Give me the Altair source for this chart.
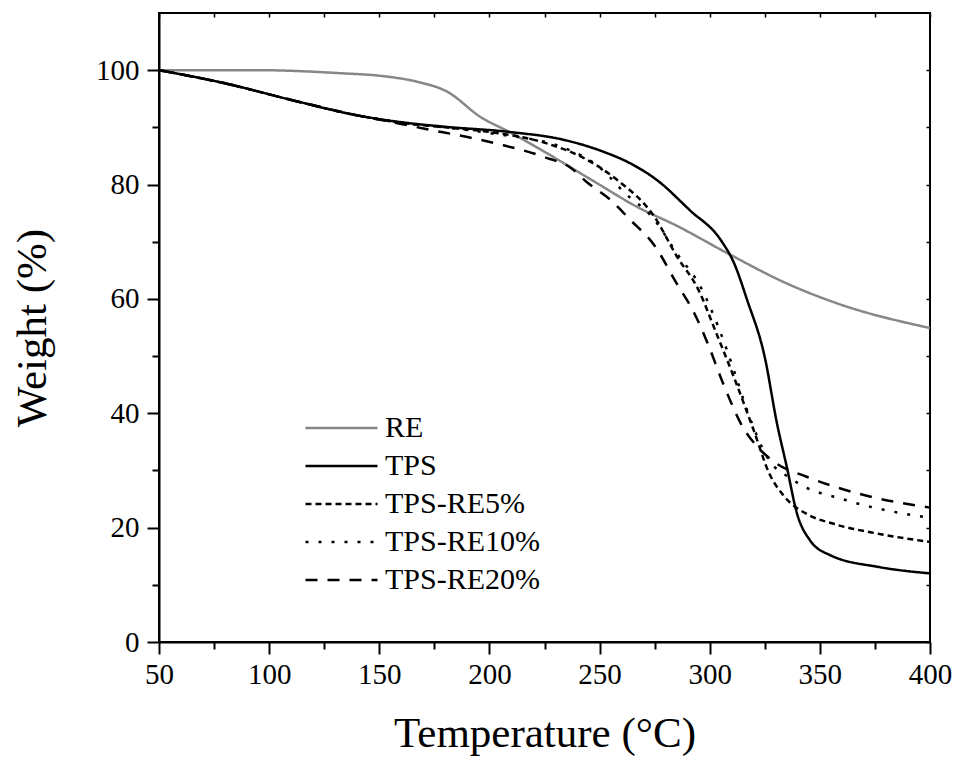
import altair as alt
import pandas as pd

FONT = "Liberation Serif"

series = ["RE", "TPS", "TPS-RE5%", "TPS-RE10%", "TPS-RE20%"]
colors = ["#878787", "#000000", "#000000", "#000000", "#000000"]
dashes = [[1, 0], [1, 0], [6, 4], [3, 10], [12, 10]]

re_T = [50, 95, 131, 153, 167, 181, 196, 209, 226, 249, 267, 285, 308, 335, 358, 400]
re_W = [100, 100, 99.5, 98.9, 98.0, 96.2, 91.8, 89.2, 85.5, 80.2, 76.1, 72.8, 68.0, 62.7, 59.2, 54.9]

tps_T = [50, 80, 110, 140, 160, 180, 209, 234, 252, 264, 276, 291, 305, 311, 317, 325, 330.5, 335, 339.6, 345.5, 354.6, 377, 400]
tps_W = [100, 97.7, 94.8, 92.1, 90.9, 90.1, 89.2, 87.8, 85.7, 83.7, 80.8, 75.5, 70.3, 66.3, 59.8, 49.8, 38.3, 30.6, 22.5, 17.8, 15.2, 13.1, 12.0]

re5_T = [50, 80, 110, 140, 160, 180, 200, 226, 243, 258, 275, 285, 295, 303, 311, 320, 327, 334, 345, 355, 377, 400]
re5_W = [100, 97.7, 94.8, 92.1, 90.8, 90.0, 89.2, 87.2, 84.6, 80.8, 74.3, 67.5, 61.5, 54.0, 46.3, 37.0, 29.5, 25.4, 22.2, 20.8, 18.9, 17.5]

re10_T = [50, 80, 110, 140, 160, 180, 200, 234, 250, 261, 275, 285, 296, 304, 311, 317, 326, 338, 362, 400]
re10_W = [100, 97.7, 94.8, 92.1, 90.8, 90.0, 89.0, 86.4, 83.0, 78.7, 73.8, 68.0, 62.0, 55.0, 47.5, 40.5, 32.4, 28.3, 24.8, 21.7]

re20_T = [50, 80, 110, 140, 160, 170, 190, 205, 225, 237, 244, 255, 264, 275, 285, 293, 299, 306, 315, 322, 330, 344, 370, 400]
re20_W = [100, 97.7, 94.8, 92.1, 90.6, 89.8, 88.3, 87.0, 84.8, 82.9, 80.5, 77.3, 73.8, 69.3, 62.7, 57.5, 52.3, 45.3, 37.6, 34.0, 31.3, 28.9, 25.7, 23.5]

x_ticks = list(range(50, 401, 25))
y_ticks = list(range(0, 101, 10))

rows = []
for name, T, W in zip(series, [re_T, tps_T, re5_T, re10_T, re20_T], [re_W, tps_W, re5_W, re10_W, re20_W]):
    for i, (t, w) in enumerate(zip(T, W)):
        rows.append({"series": name, "T": t, "W": w, "order": i})
df = pd.DataFrame(rows)

xscale = alt.Scale(domain=[50, 400], nice=False, zero=False)
yscale = alt.Scale(domain=[0, 110], nice=False, zero=False)

legend = alt.Legend(
    orient="none", legendX=145, legendY=397, title=None,
    symbolType="stroke", symbolSize=5184, symbolStrokeWidth=2.5,
    labelFont=FONT, labelFontSize=30, labelColor="black",
    clipHeight=36, rowPadding=2, labelOffset=6, padding=0, symbolOffset=0,
)

lines = alt.Chart(df).mark_line(strokeWidth=2.5, interpolate="monotone").encode(
    x=alt.X("T:Q", scale=xscale, axis=alt.Axis(
        title="Temperature (°C)", values=x_ticks,
        labelExpr="datum.value % 50 === 0 ? datum.label : ''",
        tickSize={"condition": {"test": "datum.value % 50 === 0", "value": 12}, "value": 7},
        tickWidth=2, tickColor="black", domainColor="black", domainWidth=2,
        labelFont=FONT, labelFontSize=29, labelColor="black", labelPadding=6,
        labelOverlap=False, labelFlush=False,
        titleFont=FONT, titleFontSize=43, titleFontWeight="normal", titleColor="black",
        titlePadding=23, grid=False)),
    y=alt.Y("W:Q", scale=yscale, axis=alt.Axis(
        title="Weight (%)", values=y_ticks,
        labelExpr="datum.value % 20 === 0 ? datum.label : ''",
        tickSize={"condition": {"test": "datum.value % 20 === 0", "value": 12}, "value": 7},
        tickWidth=2, tickColor="black", domainColor="black", domainWidth=2,
        labelFont=FONT, labelFontSize=29, labelColor="black", labelPadding=8,
        labelOverlap=False, labelFlush=False,
        titleFont=FONT, titleFontSize=43, titleFontWeight="normal", titleColor="black",
        titlePadding=41, grid=False)),
    color=alt.Color("series:N", scale=alt.Scale(domain=series, range=colors), sort=series, legend=legend),
    strokeDash=alt.StrokeDash("series:N", scale=alt.Scale(domain=series, range=dashes), sort=series, legend=legend),
    order="order:Q",
)

frame = alt.Chart(df).mark_line(strokeOpacity=0).encode(
    x=alt.X("T:Q", scale=xscale, axis=alt.Axis(
        orient="top", values=x_ticks, labels=False, domain=False, title=None,
        tickSize=4, offset=-4, tickWidth=1.5, tickColor="black", grid=False)),
    y=alt.Y("W:Q", scale=yscale, axis=alt.Axis(
        orient="right", values=y_ticks, labels=False, domain=False, title=None,
        tickSize=4, offset=-4, tickWidth=1.5, tickColor="black", grid=False)),
    detail="series:N",
    order="order:Q",
)

chart = alt.layer(lines, frame).resolve_axis(x="independent", y="independent").properties(
    width=771, height=629,
    autosize=alt.AutoSizeParams(type="none"),
    padding={"left": 151, "top": 5, "right": 23, "bottom": 114},
).configure(
    background="white", font=FONT
).configure_view(
    stroke="black", strokeWidth=2
).configure_axis(
    labelFont=FONT, titleFont=FONT
).configure_legend(
    labelFont=FONT
)

chart.save("out.html", embed_options={"renderer": "svg", "actions": False})
